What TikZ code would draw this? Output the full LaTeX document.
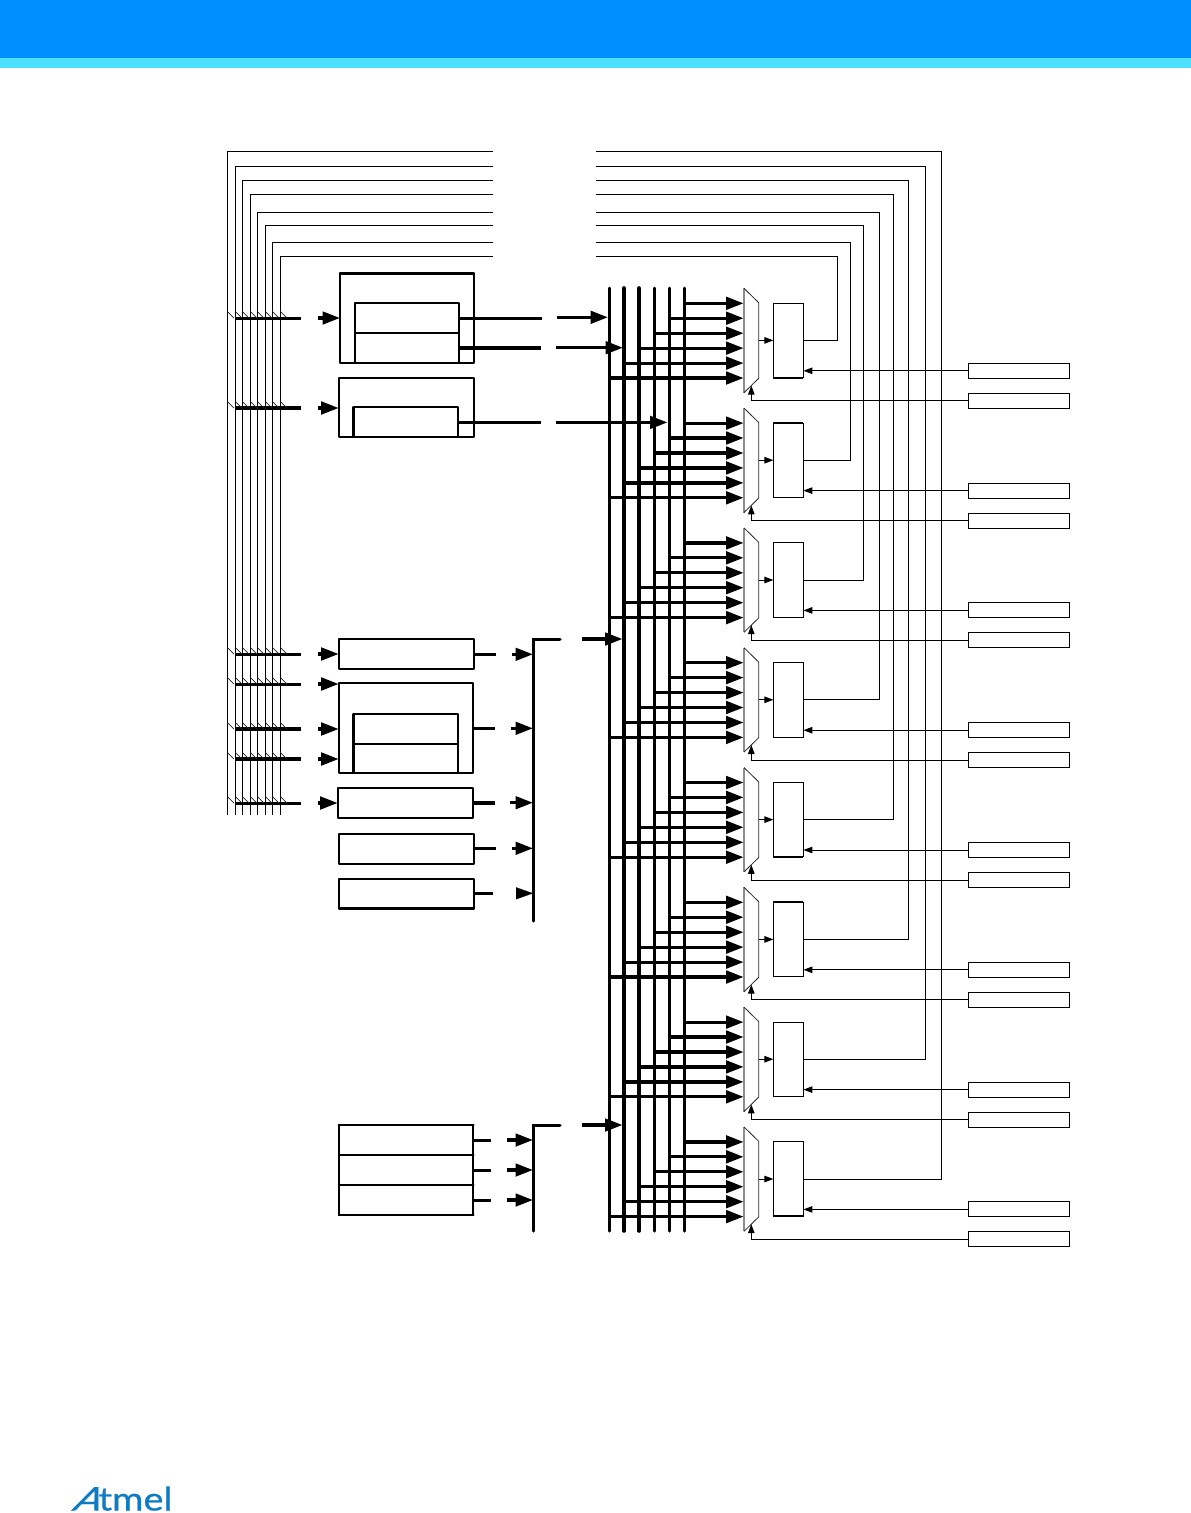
\documentclass[tikz,border=0pt]{standalone}
\usepackage{fontspec}
\usetikzlibrary{arrows.meta,calc}
\newfontfamily\logofont[FakeStretch=1.17,FakeBold=0.6]{Lato}
\newfontfamily\logoslant[FakeSlant=0.5,FakeStretch=1.25,FakeBold=0.6]{Lato}
\definecolor{hdrblue}{HTML}{008FFF}
\definecolor{hdrcyan}{HTML}{4DE1FF}
\definecolor{logoblue}{HTML}{0E7CC4}
\tikzset{
  every node/.style={inner sep=0pt,outer sep=0pt},
  bx/.style={draw=black,rectangle,line width=2.2pt,line join=round},
  bxthin/.style={draw=black,rectangle,line width=1pt},
  wire/.style={line width=1pt,line join=miter},
  heavy/.style={line width=3pt,line cap=butt},
  heavier/.style={line width=4pt,line cap=butt},
  bigarrow/.style={-{Triangle[length=17.5pt,width=12.5pt]},line width=3.2pt},
  smallarrow/.style={-{Triangle[length=9pt,width=6.5pt]},line width=1pt},
  tick/.style={line width=.8pt,draw=black!85},
  muxleft/.style={line width=1.3pt,draw=black!45},
  muxedge/.style={line width=.8pt,draw=black!85},
}
\newcommand{\BX}[6]{\node[#1,anchor=north west,minimum width={(#5-#3)*1pt},minimum height={(#6-#4)*1pt}] (#2) at (#3,#4) {};}
\begin{document}
\begin{tikzpicture}[x=1pt,y=-1pt]
\useasboundingbox (0,0) rectangle (1191,1513);
% header band
\fill[hdrblue] (0,0) rectangle (1191,58);
\fill[hdrcyan] (0,58) rectangle (1191,68);
% logo
\node[anchor=base west,text=logoblue,font=\fontsize{32.5}{33}\logofont] (logo) at (71,1510.5) {{\logoslant A}tmel};

% left blocks
\BX{bx}{boxA}{340}{273.3}{474.3}{362.7}
\BX{bx}{inA1}{355}{302.7}{459.3}{332.7}
\BX{bx}{inA2}{355}{332.7}{459.3}{362.7}
\draw[line width=3pt] (boxA.north west) -- (boxA.north east);
\BX{bx}{boxB}{338.7}{377.7}{474}{436.7}
\BX{bx}{inB}{353.5}{406.7}{458}{436.7}
\draw[line width=3pt] (inB.north west) -- (inB.south west);
\BX{bx}{boxC}{338.7}{639.3}{474}{668.7}
\BX{bx}{boxD}{338.7}{682.7}{472.7}{772.7}
\BX{bx}{inD1}{353.5}{714}{458}{744}
\BX{bx}{inD2}{353.5}{744}{458}{772.7}
\draw[line width=3pt] (inD1.north west) -- (inD2.south west);
\BX{bx}{boxE}{337.7}{788}{472.7}{818}
\BX{bx}{boxF}{338.7}{834}{474}{864}
\BX{bx}{boxG}{338.7}{879}{474}{908.7}
\BX{bx}{boxH1}{339}{1125}{473.3}{1155}
\BX{bx}{boxH2}{339}{1155}{473.3}{1185}
\BX{bx}{boxH3}{339}{1185}{473.3}{1215}
\draw[line width=2.6pt] (boxG.south west) -- (boxG.south east);
\draw[line width=2.8pt,line cap=round] (boxH1.north west) -- (boxH1.north east)
  (boxH1.north west) -- (boxH3.south west) -- (boxH3.south east)
  (boxH2.north west) -- (boxH2.north east) (boxH3.north west) -- (boxH3.north east);

% vertical feed lines on the left and the long loops
\foreach \j/\xl/\yt/\xr/\ch in {
  1/227.4/151.4/941.4/8, 2/235.4/166.4/925.4/7, 3/242.4/180.4/908.4/6, 4/250.4/194.4/893.4/5,
  5/257.4/212.4/879.4/4, 6/265.4/225.4/863.4/3, 7/272.4/242.4/850.4/2, 8/280.4/256.4/837.4/1}{
  \coordinate (wb\j) at (\xl,815);
  \coordinate (wtl\j) at (\xl,\yt);
  \coordinate (wgl\j) at (493,\yt);
  \coordinate (wgr\j) at (596,\yt);
  \coordinate (wtr\j) at (\xr,\yt);
  \draw[wire] (wb\j) -- (wtl\j) -- (wgl\j);
}

% input rows
\foreach \n/\y/\w/\t in {1/318/3/boxA,2/408/4/boxB,3/654/3/boxC,4/684/3/boxD,5/729/4/boxD,6/759/4/boxD,7/803/3/boxE}{
  \coordinate (rs\n) at (235,\y);
  \coordinate (re\n) at (301,\y);
  \coordinate (as\n) at (318,\y);
  \draw[line width=\w pt] (rs\n) -- (re\n);
  \draw[bigarrow] (as\n) -- (\t.west |- as\n);
  \foreach \xl in {227.4,235.4,242.4,250.4,257.4,265.4,272.4,280.4}{
    \draw[tick] (\xl,\y-6.5) -- (\xl+6.5,\y);}
}

% bus verticals
\foreach \k/\x/\w in {1/609.3/3,2/624/3.6,3/639/3.6,4/654.4/3,5/669.4/3,6/684/3}{
  \coordinate (bt\k) at (\x,288);
  \coordinate (bb\k) at (\x,1231);
  \draw[line width=\w pt,line cap=round] (bt\k) -- (bb\k);
}
% secondary buses
\coordinate (g1t) at (533.3,639);
\coordinate (g1b) at (533.3,921);
\coordinate (g1r) at (560,639);
\coordinate (g1a) at (582,639);
\coordinate (g1tip) at (622.5,639);
\draw[line width=3pt,line cap=round,line join=miter] (g1r) -- (g1t) -- (g1b);
\draw[bigarrow] (g1a) -- (g1tip);
\coordinate (g2t) at (533.3,1125);
\coordinate (g2b) at (533.3,1231);
\coordinate (g2r) at (560,1125);
\coordinate (g2a) at (582,1125);
\coordinate (g2tip) at (622.5,1125);
\draw[line width=3pt,line cap=round,line join=miter] (g2r) -- (g2t) -- (g2b);
\draw[bigarrow] (g2a) -- (g2tip);

% outputs of the top blocks
\coordinate (oa1s) at (459,318); \coordinate (oa1e) at (542,318);
\coordinate (oa1a) at (557,317.3); \coordinate (oa1t) at (608,317.3);
\draw[heavy] (oa1s) -- (oa1e); \draw[bigarrow] (oa1a) -- (oa1t);
\coordinate (oa2s) at (458,347.7); \coordinate (oa2e) at (541,347.7);
\coordinate (oa2a) at (556,347.7); \coordinate (oa2t) at (623,347.7);
\draw[heavier] (oa2s) -- (oa2e); \draw[bigarrow] (oa2a) -- (oa2t);
\coordinate (obs) at (457,422.4); \coordinate (obe) at (541,422.4);
\coordinate (oba) at (556,422.4); \coordinate (obt) at (667.5,422.4);
\draw[heavy] (obs) -- (obe); \draw[bigarrow] (oba) -- (obt);

% outputs into the secondary buses
\foreach \n/\src/\y/\e/\a/\w in {c/boxC/654.3/496/512/3,d/boxD/728.3/495/511/3,e/boxE/802.7/495/510/4,f/boxF/848.3/496/512/3,
   h1/boxH1/1140/491/507/3,h2/boxH2/1170/491/507/3,h3/boxH3/1200/491/507/3}{
  \coordinate (o\n s) at (\src.east |- 0,\y);
  \coordinate (o\n e) at (\e,\y);
  \coordinate (o\n a) at (\a,\y);
  \draw[line width=\w pt] (o\n s) -- (o\n e);
  \draw[bigarrow] (o\n a) -- (533,\y);
}
\coordinate (ogs) at (boxG.east |- 0,893.3); \coordinate (oge) at (492.7,893.3);
\coordinate (oga) at (516,893.3); \coordinate (ogt) at (533,893.3);
\draw[heavy] (ogs) -- (oge);
\draw[-{Triangle[length=17pt,width=12pt]},line width=.1pt] (oga) -- (ogt);

% eight channels
\foreach \i in {1,...,8}{
  \pgfmathsetmacro{\dy}{(\i-1)*119.8}
  \begin{scope}[shift={(0,\dy)}]
    \coordinate (m\i a) at (744,288.3);
    \coordinate (m\i b) at (758.7,302.7);
    \coordinate (m\i c) at (758.7,378.3);
    \coordinate (m\i d) at (744,392.7);
    \coordinate (m\i out) at (758.7,340.4);
    \coordinate (m\i sel) at (751.3,385.6);
    \BX{bxthin}{r\i}{773.4}{303.3}{803.4}{377.7}
    \BX{bxthin}{up\i}{968.4}{363.3}{1069.4}{378.3}
    \BX{bxthin}{lo\i}{968.4}{393.3}{1069.4}{408.3}
    \foreach \k/\y in {6/303.3,5/318.2,4/333.2,3/348.1,2/363.1,1/378}{
      \coordinate (m\i in\k) at (743.6,\y);
    }
  \end{scope}
  \draw[muxleft] (m\i a) -- (m\i d);
  \draw[muxedge] (m\i a) -- (m\i b) -- (m\i c) -- (m\i d);
  \foreach \k in {1,...,6}{
    \draw[bigarrow] (bt\k |- m\i in\k) -- (m\i in\k);
  }
  \draw[smallarrow] (m\i out) -- (r\i.west |- m\i out);
  \draw[smallarrow] (up\i.west) -- (r\i.east |- up\i.west);
  \draw[wire] (lo\i.west) -- (m\i sel |- lo\i.west);
  \draw[smallarrow] (m\i sel |- lo\i.west) -- (m\i sel);
}
% heavier edges on some channel registers, as printed
\foreach \n/\e in {1/south,2/north,5/north,5/south,6/north,8/south}{
  \draw[line width=1.8pt] (r\n.\e\space west) -- (r\n.\e\space east);
}
% right-hand returns
\foreach \j/\ch in {1/8,2/7,3/6,4/5,5/4,6/3,7/2,8/1}{
  \draw[wire] (wgr\j) -- (wtr\j) -- (wtr\j |- r\ch.east) -- (r\ch.east);
}
\end{tikzpicture}
\end{document}
